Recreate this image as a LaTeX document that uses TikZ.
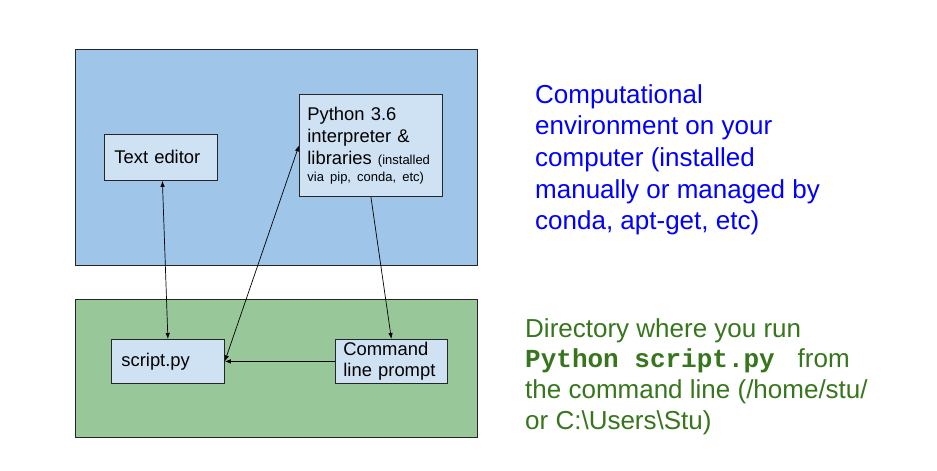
\documentclass[tikz,border=0pt]{standalone}
\usepackage{fontspec}
\setmainfont{Liberation Sans}
\setmonofont{Liberation Mono}
\usetikzlibrary{arrows.meta}
\definecolor{envblue}{HTML}{9FC5E8}
\definecolor{dirgreen}{HTML}{98C79A}
\definecolor{boxblue}{HTML}{CFE2F3}
\definecolor{txtblue}{HTML}{0000FF}
\definecolor{txtgreen}{HTML}{38761D}
\tikzset{
  region/.style={draw=black!85, line width=0.8pt, anchor=north west, inner sep=0pt},
  inbox/.style={draw=black!85, line width=0.8pt, fill=boxblue, anchor=north west, inner sep=0pt,
     align=left, font=\fontsize{18.4}{22}\selectfont},
  conn/.style={line width=0.7pt, black, >={Latex[length=6pt,width=4.5pt]}},
  note/.style={anchor=north west, inner sep=0pt, align=left, font=\fontsize{26}{31.7}\selectfont}
}
\begin{document}
\begin{tikzpicture}[x=1pt,y=-1pt]
\useasboundingbox (0,0) rectangle (937,471);
\fill[white] (0,0) rectangle (937,471);
% regions
\node[region, fill=envblue, minimum width=402pt, minimum height=216pt] (env) at (75,49) {};
\node[region, fill=dirgreen, minimum width=402pt, minimum height=138pt] (dir) at (75,299) {};
% inner boxes
\node[inbox, minimum width=113pt, minimum height=46pt, text width=93pt, inner xsep=10pt] (ted) at (104,134) {Text editor};
\node[inbox, minimum width=143pt, minimum height=102pt, text width=127pt, inner xsep=8pt] (py) at (299,94)
  {Python 3.6\\interpreter \&\\libraries {\fontsize{13}{16}\selectfont (installed}\\[-5pt]{\fontsize{13}{16}\selectfont via pip, conda, etc)}};
\node[inbox, minimum width=113pt, minimum height=44pt, text width=93pt, inner xsep=10pt] (script) at (111,339) {script.py};
\node[inbox, minimum width=112pt, minimum height=44pt, text width=96pt, inner xsep=8pt] (cmd) at (335,339) {Command\\[-1pt]line prompt};
% connectors
\draw[conn,<->] ([xshift=1.5pt]ted.south) -- (script.north);
\draw[conn,<->] (script.east) -- (py.west);
\draw[conn,->] (py.south) -- (cmd.north);
\draw[conn,->] (cmd.west) -- (script.east);
% notes
\node[note, text=txtblue] (envnote) at (535,84)
  {Computational\\environment on your\\computer (installed\\manually or managed by\\conda, apt-get, etc)};
\node[note, text=txtgreen, font=\fontsize{26}{30.8}\selectfont] (dirnote) at (525,318)
  {Directory where you run\\{\ttfamily\bfseries Python script.py\ } from\\the command line (/home/stu/\\or C:\textbackslash Users\textbackslash Stu)};
\end{tikzpicture}
\end{document}
